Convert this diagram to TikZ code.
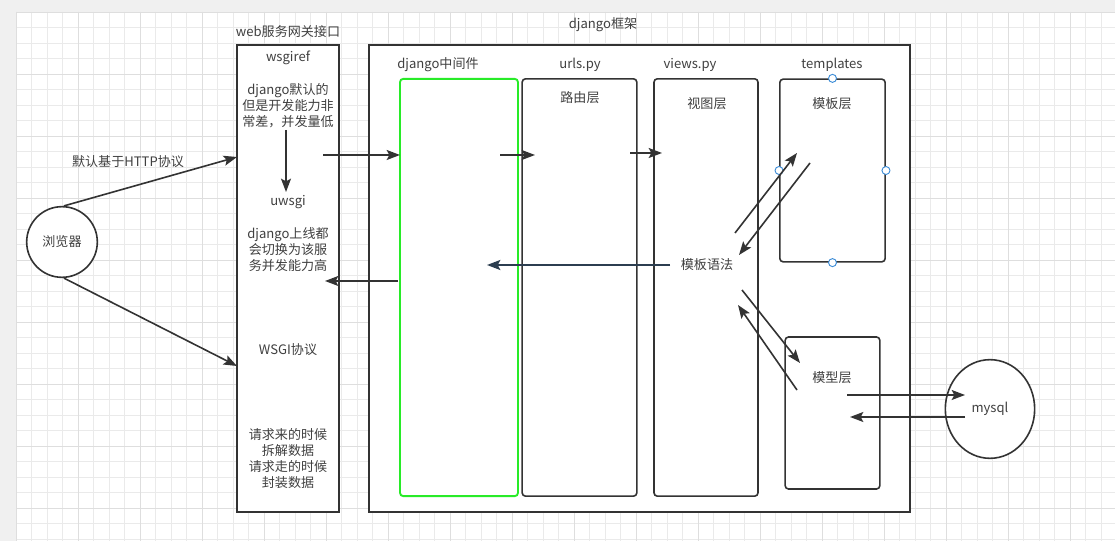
\documentclass[tikz,border=0pt]{standalone}
\usepackage{fontspec}
\usetikzlibrary{arrows.meta,shapes.geometric}
\newfontfamily\cjk{Noto Sans CJK SC}

\definecolor{lineC}{RGB}{51,51,51}
\definecolor{textC}{RGB}{64,64,64}
\definecolor{gridC}{RGB}{234,234,234}
\definecolor{gridM}{RGB}{222,222,222}
\definecolor{greenC}{RGB}{40,235,40}
\definecolor{handleC}{RGB}{60,140,215}
\definecolor{navyC}{RGB}{44,62,80}

\tikzset{
  txt/.style={font=\cjk\fontsize{9.8}{12}\selectfont, text=textC, align=center, inner sep=0pt},
  frame/.style={draw=lineC, line width=1.2pt, fill=white, inner sep=0pt},
  layer/.style={frame, rounded corners=2.5pt},
  conn/.style={draw=lineC, line width=1.2pt, -{Stealth[length=10pt,width=7.5pt,inset=2pt]}},
  handle/.style={circle, draw=handleC, fill=white, line width=0.7pt, minimum size=6pt, inner sep=0pt},
}

\begin{document}
\begin{tikzpicture}[x=0.75pt,y=0.75pt,yscale=-1,xscale=1]
\useasboundingbox (0,0) rectangle (1115,541);

% background grid
\fill[black!6] (0,0) rectangle (1115,541);
\fill[white] (16,12) rectangle (1115,541);
\foreach \gx in {16,31.5,...,1115} \draw[gridC, line width=0.5pt] (\gx,12) -- (\gx,541);
\foreach \gy in {12,27.5,...,541} \draw[gridC, line width=0.5pt] (16,\gy) -- (1115,\gy);
\foreach \gx in {16,78,...,1115} \draw[gridM, line width=0.5pt] (\gx,12) -- (\gx,541);
\foreach \gy in {12,74,...,541} \draw[gridM, line width=0.5pt] (16,\gy) -- (1115,\gy);

% Boxes
\node[frame, minimum width=76.5pt, minimum height=350pt] (wsgiref) at (288,278.5) {};
\node[frame, minimum width=406pt, minimum height=350pt] (django) at (639.5,278.5) {};
\node[layer, draw=greenC, line width=1.4pt, minimum width=88.5pt, minimum height=313pt] (middleware) at (459,287.5) {};
\node[layer, minimum width=86pt, minimum height=313pt] (urls) at (579.5,287.5) {};
\node[layer, minimum width=78pt, minimum height=313pt] (views) at (706,287.5) {};
\node[layer, minimum width=79pt, minimum height=137pt] (templates) at (832.5,170.5) {};
\node[layer, minimum width=71pt, minimum height=114pt] (models) at (832.5,413) {};
\node[frame, circle, minimum size=53pt] (browser) at (62,242) {};
\node[frame, ellipse, minimum width=67pt, minimum height=74pt] (mysql) at (990,409) {};

% Handles
\node[handle] (tplN) at (templates.north) {};
\node[handle] (tplW) at (templates.west) {};
\node[handle] (tplE) at (templates.east) {};
\node[handle] (tplS) at (templates.south) {};

% Text Node
\node[txt] (browserT) at (browser) {浏览器};
\node[txt] (httpT) at (128,162) {默认基于HTTP协议};
\node[txt] (gatewayT) at (288,32) {web服务网关接口};
\node[txt] (wsgirefT) at (288,58) {wsgiref};
\node[txt] (defaultT) at (288,106) {django默认的\\但是开发能力非\\常差，并发量低};
\node[txt] (uwsgiT) at (288,202) {uwsgi};
\node[txt] (onlineT) at (288,250) {django上线都\\会切换为该服\\务并发能力高};
\node[txt] (wsgiT) at (288,350) {WSGI协议};
\node[txt] (dataT) at (288,459) {请求来的时候\\拆解数据\\请求走的时候\\封装数据};
\node[txt] (djangoT) at (603,25) {django框架};
\node[txt] (middlewareT) at (438,65) {django中间件};
\node[txt] (urlsT) at (580,65) {urls.py};
\node[txt] (routeT) at (580,98) {路由层};
\node[txt] (viewsT) at (690,65) {views.py};
\node[txt] (viewT) at (707,104) {视图层};
\node[txt] (templatesT) at (832,65) {templates};
\node[txt] (tplT) at (832,104) {模板层};
\node[txt] (syntaxT) at (707,265) {模板语法};
\node[txt] (modelT) at (832,378) {模型层};
\node[txt] (mysqlT) at (mysql) {mysql};

% free ends
\coordinate (httpEnd) at (237,157);
\coordinate (wsgiEnd) at (237,366);
\coordinate (uA) at (286,130);   \coordinate (uB) at (286,192);
\coordinate (inA) at (323,155);  \coordinate (inB) at (400,155);
\coordinate (outA) at (398,281); \coordinate (outB) at (325,281);
\coordinate (mA) at (500,155);   \coordinate (mB) at (535,155);
\coordinate (rA) at (630,153);   \coordinate (rB) at (662,153);
\coordinate (sA) at (670,265);   \coordinate (sB) at (487,265);
\coordinate (tA) at (735,233);   \coordinate (tB) at (797,153);
\coordinate (tC) at (810,163);   \coordinate (tD) at (739,255);
\coordinate (dA) at (742,290);   \coordinate (dB) at (800,363);
\coordinate (dC) at (797,390);   \coordinate (dD) at (738,305);
\coordinate (qA) at (847,395);   \coordinate (qB) at (965,395);
\coordinate (qC) at (965,417);   \coordinate (qD) at (850,417);

% Connection
\draw[conn] (browser.87) -- (httpEnd);
\draw[conn] (browser.-87) -- (wsgiEnd);
\draw[conn] (uA) -- (uB);
\draw[conn] (inA) -- (inB);
\draw[conn] (outA) -- (outB);
\draw[conn] (mA) -- (mB);
\draw[conn] (rA) -- (rB);
\draw[conn, draw=navyC, line width=1.5pt] (sA) -- (sB);
\draw[conn] (tA) -- (tB);
\draw[conn] (tC) -- (tD);
\draw[conn] (dA) -- (dB);
\draw[conn] (dC) -- (dD);
\draw[conn] (qA) -- (qB);
\draw[conn] (qC) -- (qD);

\end{tikzpicture}
\end{document}
